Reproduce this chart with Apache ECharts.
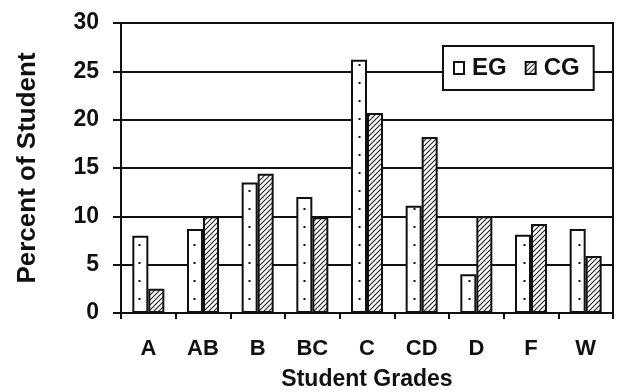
<!DOCTYPE html>
<html><head><meta charset="utf-8">
<script src="https://cdn.jsdelivr.net/npm/echarts@6/dist/echarts.min.js"></script>
<style>html,body{margin:0;padding:0;background:#fff}#c{width:617px;height:392px}</style>
</head><body><div id="c"></div>
<script>
const categories = ['A', 'AB', 'B', 'BC', 'C', 'CD', 'D', 'F', 'W'];
const egValues = [8.0, 8.7, 13.5, 12.0, 26.2, 11.1, 4.0, 8.1, 8.7];
const cgValues = [2.5, 10.0, 14.4, 9.9, 20.7, 18.2, 10.0, 9.2, 5.9];
const seriesNames = ['EG', 'CG'];
const yMin = 0, yMax = 30, yStep = 5;

function dotPattern() {
  const c = document.createElement('canvas');
  c.width = 55; c.height = 18;
  const x = c.getContext('2d');
  x.fillStyle = '#fff'; x.fillRect(0, 0, 55, 18);
  x.fillStyle = '#111'; x.fillRect(28.5, 10, 2, 2);
  return c;
}
function hatchPattern() {
  const s = 5;
  const c = document.createElement('canvas');
  c.width = s; c.height = s;
  const x = c.getContext('2d');
  x.fillStyle = '#fff'; x.fillRect(0, 0, s, s);
  x.strokeStyle = '#222'; x.lineWidth = 1.1;
  x.beginPath();
  x.moveTo(0, s); x.lineTo(s, 0);
  x.moveTo(-1, 1); x.lineTo(1, -1);
  x.moveTo(s - 1, s + 1); x.lineTo(s + 1, s - 1);
  x.stroke();
  return c;
}
const font = "'Liberation Sans', Arial, sans-serif";
const chart = echarts.init(document.getElementById('c'), null, {renderer: 'canvas'});
chart.setOption({
  backgroundColor: '#fff',
  animation: false,
  grid: {left: 121, top: 23, width: 492, height: 290, show: true, borderColor: '#111', borderWidth: 2,
         backgroundColor: 'transparent', containLabel: false, outerBoundsMode: 'none'},
  legend: {
    data: seriesNames, left: 443, top: 46, orient: 'horizontal',
    backgroundColor: '#fff', borderColor: '#111', borderWidth: 2, borderRadius: 0,
    padding: [10, 14, 10, 10], itemGap: 18, itemWidth: 10, itemHeight: 12, icon: 'rect',
    textStyle: {fontFamily: font, fontWeight: 'bold', fontSize: 24, color: '#111', padding: [0, 0, 0, 3]}
  },
  xAxis: {
    type: 'category', data: categories,
    name: 'Student Grades', nameLocation: 'middle', nameGap: 55,
    nameTextStyle: {fontFamily: font, fontWeight: 'bold', fontSize: 23, color: '#111'},
    axisLine: {lineStyle: {color: '#111', width: 2}},
    axisTick: {show: true, length: 6, lineStyle: {color: '#111', width: 2}},
    axisLabel: {fontFamily: font, fontWeight: 'bold', fontSize: 22, color: '#111', margin: 25},
    splitLine: {show: false}
  },
  yAxis: {
    type: 'value', min: yMin, max: yMax, interval: yStep,
    name: 'Percent of Student', nameLocation: 'middle', nameGap: 80, nameRotate: 90,
    nameTextStyle: {fontFamily: font, fontWeight: 'bold', fontSize: 26, color: '#111'},
    axisLine: {show: true, lineStyle: {color: '#111', width: 2}},
    axisTick: {show: true, length: 8, lineStyle: {color: '#111', width: 2}},
    axisLabel: {fontFamily: font, fontWeight: 'bold', fontSize: 23, color: '#111', margin: 22},
    splitLine: {show: true, lineStyle: {color: '#111', width: 2}}
  },
  series: [
    {name: seriesNames[0], type: 'bar', data: egValues, barWidth: 16, barGap: '0%',
     itemStyle: {color: {image: dotPattern(), repeat: 'repeat'}, borderColor: '#111', borderWidth: 2}},
    {name: seriesNames[1], type: 'bar', data: cgValues, barWidth: 16, barGap: '0%',
     itemStyle: {color: {image: hatchPattern(), repeat: 'repeat'}, borderColor: '#111', borderWidth: 2}}
  ]
});
</script></body></html>
